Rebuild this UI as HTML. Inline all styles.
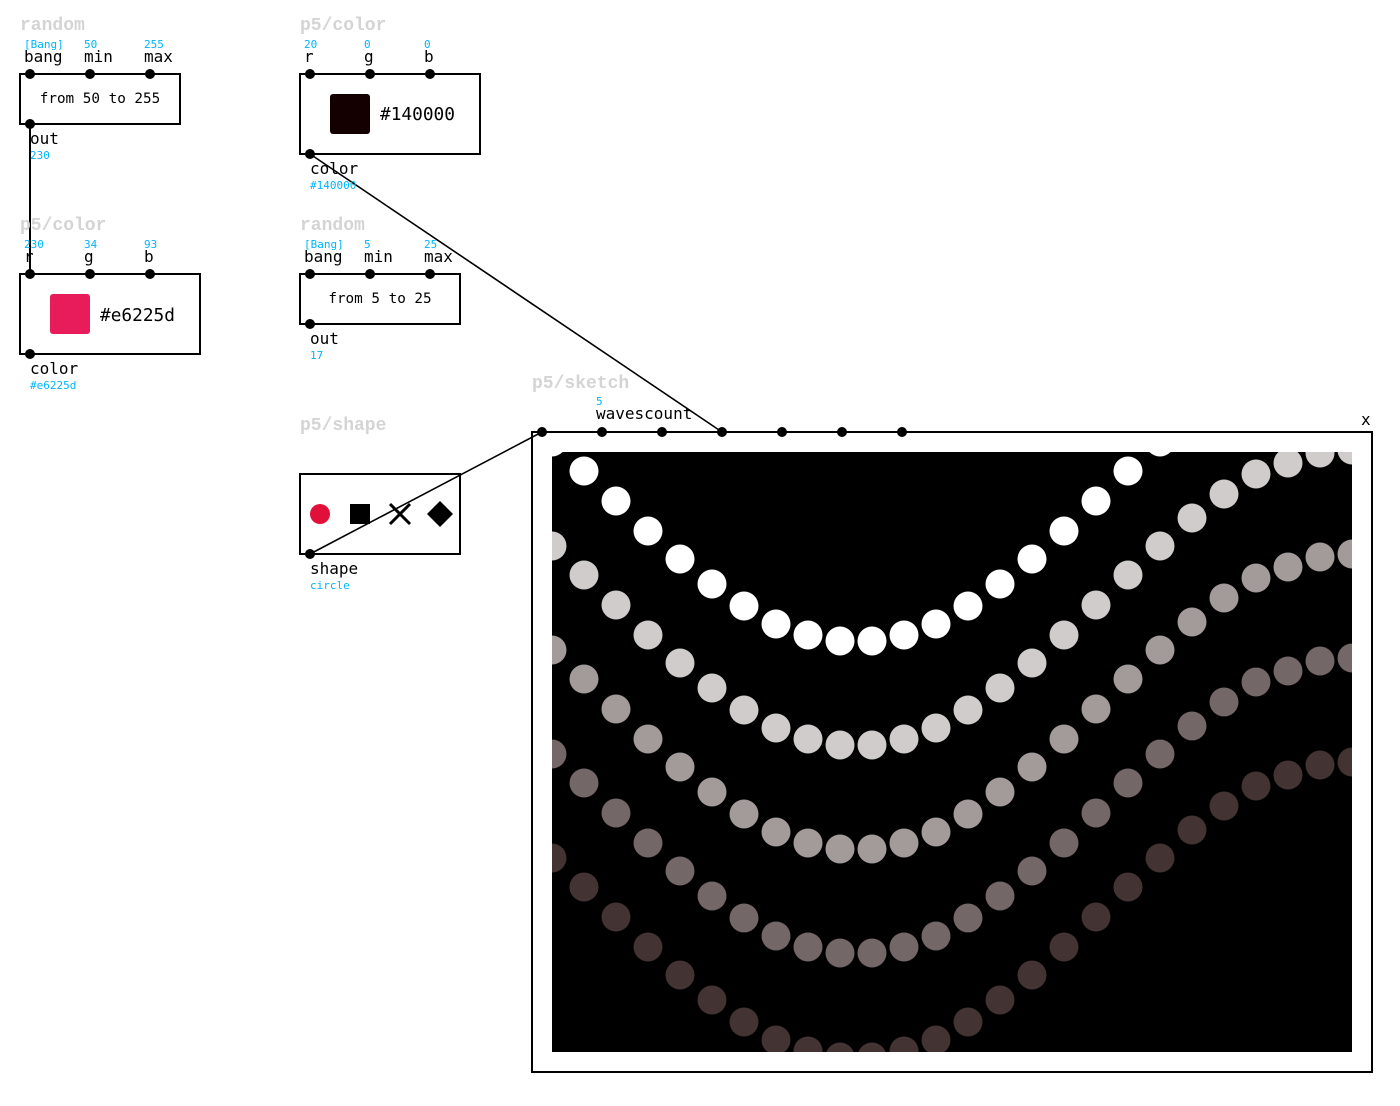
<!DOCTYPE html>
<html><head><meta charset="utf-8"><style>
html,body{margin:0;padding:0;background:#fff;}
svg{display:block;}
.t{font-family:"Liberation Mono",monospace;font-weight:bold;font-size:18px;fill:#d4d4d4;}
.l{font-family:"DejaVu Sans Mono","Liberation Mono",monospace;font-size:16px;fill:#000;}
.v{font-family:"DejaVu Sans Mono","Liberation Mono",monospace;font-size:11px;fill:#00b4ff;}
.b{font-family:"DejaVu Sans Mono","Liberation Mono",monospace;font-size:14.3px;fill:#000;}
</style></head><body>
<svg id="s" width="1400" height="1106" viewBox="0 0 1400 1106" xmlns="http://www.w3.org/2000/svg">
<defs><clipPath id="cp"><rect x="552" y="452" width="800" height="600"/></clipPath></defs>
<g fill="none" stroke="#000" stroke-width="2">
<rect x="20" y="74" width="160" height="50"/>
<rect x="300" y="74" width="180" height="80"/>
<rect x="20" y="274" width="180" height="80"/>
<rect x="300" y="274" width="160" height="50"/>
<rect x="300" y="474" width="160" height="80"/>
<rect x="532" y="432" width="840" height="640"/>
</g>
<rect x="552" y="452" width="800" height="600" fill="#000"/>
<g id="dots" clip-path="url(#cp)"></g>
<g stroke="#000" stroke-width="1.6">
<line x1="30" y1="124" x2="30" y2="274" stroke-width="2"/>
<line x1="310" y1="154" x2="722" y2="432"/>
<line x1="310" y1="554" x2="542" y2="432"/>
</g>
<g fill="#000">
<circle cx="30" cy="74" r="5"/><circle cx="90" cy="74" r="5"/><circle cx="150" cy="74" r="5"/><circle cx="30" cy="124" r="5"/>
<circle cx="310" cy="74" r="5"/><circle cx="370" cy="74" r="5"/><circle cx="430" cy="74" r="5"/><circle cx="310" cy="154" r="5"/>
<circle cx="30" cy="274" r="5"/><circle cx="90" cy="274" r="5"/><circle cx="150" cy="274" r="5"/><circle cx="30" cy="354" r="5"/>
<circle cx="310" cy="274" r="5"/><circle cx="370" cy="274" r="5"/><circle cx="430" cy="274" r="5"/><circle cx="310" cy="324" r="5"/>
<circle cx="310" cy="554" r="5"/>
<circle cx="542" cy="432" r="5"/><circle cx="602" cy="432" r="5"/><circle cx="662" cy="432" r="5"/><circle cx="722" cy="432" r="5"/><circle cx="782" cy="432" r="5"/><circle cx="842" cy="432" r="5"/><circle cx="902" cy="432" r="5"/>
</g>
<rect x="330" y="94" width="40" height="40" rx="3" fill="#140000"/>
<rect x="50" y="294" width="40" height="40" rx="3" fill="#e81c5a"/>
<circle cx="320" cy="514" r="10" fill="#e0103a"/>
<rect x="350" y="504" width="20" height="20" fill="#000"/>
<g stroke="#000" stroke-width="3"><line x1="390" y1="504" x2="410" y2="524"/><line x1="410" y1="504" x2="390" y2="524"/></g>
<polygon points="440,501 453,514 440,527 427,514" fill="#000"/>

<text class="t" x="20" y="30">random</text>
<text class="v" x="24" y="48">[Bang]</text><text class="v" x="84" y="48">50</text><text class="v" x="144" y="48">255</text>
<text class="l" x="24" y="62">bang</text><text class="l" x="84" y="62">min</text><text class="l" x="144" y="62">max</text>
<text class="b" x="100" y="103" text-anchor="middle">from 50 to 255</text>
<text class="l" x="30" y="144">out</text><text class="v" x="30" y="159">230</text>

<text class="t" x="300" y="30">p5/color</text>
<text class="v" x="304" y="48">20</text><text class="v" x="364" y="48">0</text><text class="v" x="424" y="48">0</text>
<text class="l" x="304" y="62">r</text><text class="l" x="364" y="62">g</text><text class="l" x="424" y="62">b</text>
<text class="l" x="380" y="120" style="font-size:17.8px">#140000</text>
<text class="l" x="310" y="174">color</text><text class="v" x="310" y="189">#140000</text>

<text class="t" x="20" y="230">p5/color</text>
<text class="v" x="24" y="248">230</text><text class="v" x="84" y="248">34</text><text class="v" x="144" y="248">93</text>
<text class="l" x="24" y="262">r</text><text class="l" x="84" y="262">g</text><text class="l" x="144" y="262">b</text>
<text class="l" x="100" y="321" style="font-size:17.8px">#e6225d</text>
<text class="l" x="30" y="374">color</text><text class="v" x="30" y="389">#e6225d</text>

<text class="t" x="300" y="230">random</text>
<text class="v" x="304" y="248">[Bang]</text><text class="v" x="364" y="248">5</text><text class="v" x="424" y="248">25</text>
<text class="l" x="304" y="262">bang</text><text class="l" x="364" y="262">min</text><text class="l" x="424" y="262">max</text>
<text class="b" x="380" y="303" text-anchor="middle">from 5 to 25</text>
<text class="l" x="310" y="344">out</text><text class="v" x="310" y="359">17</text>

<text class="t" x="300" y="430">p5/shape</text>
<text class="l" x="310" y="574">shape</text><text class="v" x="310" y="589">circle</text>

<text class="t" x="532" y="388">p5/sketch</text>
<text class="v" x="596" y="405">5</text>
<text class="l" x="596" y="419">wavescount</text>
<text class="l" x="1361" y="425">x</text>
</svg>
<script>
var d={16:0,48:6,80:17,112:35,144:57,176:82,208:110,240:140,272:170,304:199,336:227,368:251,400:271,432:282,464:292,496:295};
var cols=["#ffffff","#d0cccc","#a39a9a","#736767","#433333"];
var g=document.getElementById("dots"),h="";
for(var k=0;k<5;k++){var base=641+104*k;
for(var x=552;x<=1352;x+=32){var o=Math.abs(x-856);var y=base-(d[o]||0);
h+='<circle cx="'+x+'" cy="'+y+'" r="14.5" fill="'+cols[k]+'"/>';}}
g.innerHTML=h;
</script>
</body></html>
